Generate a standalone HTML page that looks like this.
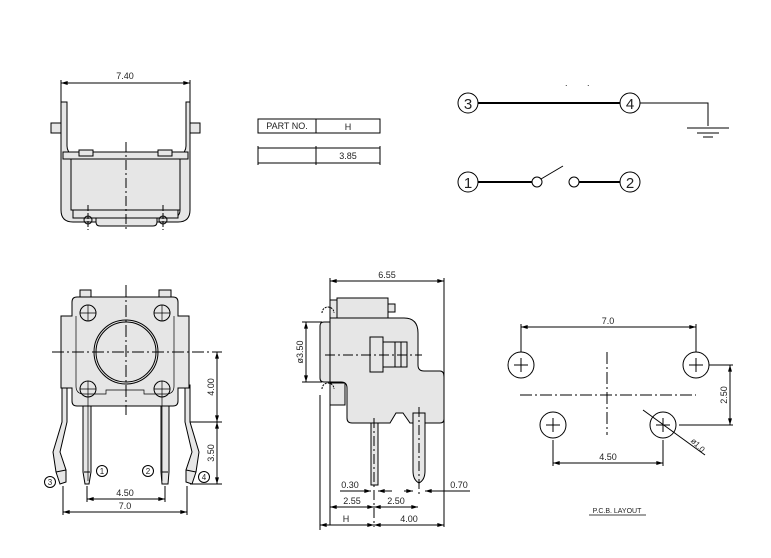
<!DOCTYPE html>
<html><head><meta charset="utf-8"><style>
body{margin:0;background:#fff}
svg{display:block}
text{font-family:"Liberation Sans",sans-serif;font-size:9px;fill:#222}
</style></head><body>
<svg width="771" height="558" viewBox="0 0 771 558" xmlns="http://www.w3.org/2000/svg">
<defs>
<marker id="a" viewBox="0 0 10 6" refX="10" refY="3" markerWidth="7" markerHeight="4" orient="auto-start-reverse"><path d="M0,0L10,3L0,6z" fill="#000"/></marker>
</defs>
<g stroke="#000" stroke-width="1" fill="none">
<!-- TOP VIEW -->
<line x1="61" y1="80" x2="61" y2="102"/><line x1="190" y1="80" x2="190" y2="102"/>
<line x1="61" y1="83" x2="190" y2="83" marker-start="url(#a)" marker-end="url(#a)"/>
<path d="M61,102h6v44q0,6 6,10v54q0,8 10,8H170q10,0 10,-8V156q6,-4 6,-10V102h4v108q0,12 -12,12H73q-12,0 -12,-12z" fill="#e6e6e6"/>
<rect x="51" y="123" width="10" height="10" fill="#e6e6e6"/><rect x="190" y="123" width="10" height="10" fill="#e6e6e6"/>
<rect x="63" y="152" width="125" height="7" fill="#e6e6e6"/>
<rect x="79" y="150" width="14" height="6" fill="#e6e6e6"/><rect x="158" y="150" width="14" height="6" fill="#e6e6e6"/>
<rect x="71" y="159" width="109" height="51" fill="#e6e6e6"/>
<path d="M96,218v4q0,4 4,4h53q4,0 4,-4v-4" fill="#e6e6e6"/>
<rect x="73" y="210" width="105" height="8" fill="#e6e6e6"/>
<circle cx="88" cy="220" r="4"/><circle cx="163" cy="220" r="4"/>
<line x1="126" y1="142" x2="126" y2="232" stroke-dasharray="10,3,2,3"/>
<line x1="88" y1="205" x2="88" y2="230" stroke-dasharray="6,2"/><line x1="163" y1="205" x2="163" y2="230" stroke-dasharray="6,2"/>
<!-- TABLE -->
<rect x="258" y="119" width="122" height="14"/><line x1="316" y1="119" x2="316" y2="133"/>
<line x1="258" y1="148" x2="380" y2="148"/><line x1="258" y1="163" x2="380" y2="163"/>
<line x1="258" y1="146" x2="258" y2="165"/><line x1="316" y1="146" x2="316" y2="165"/><line x1="380" y1="146" x2="380" y2="165"/>
<!-- SCHEMATIC -->
<circle cx="468" cy="103" r="10"/><circle cx="630" cy="103" r="10"/>
<line x1="478" y1="103" x2="620" y2="103" stroke-width="2"/>
<path d="M640,103H708V126"/>
<line x1="687" y1="128" x2="729" y2="128"/><line x1="697" y1="133" x2="719" y2="133"/><line x1="703" y1="137" x2="713" y2="137"/>
<circle cx="468" cy="182" r="10"/><circle cx="630" cy="182" r="10"/>
<line x1="478" y1="182" x2="532" y2="182" stroke-width="2"/>
<circle cx="537" cy="182" r="5"/><line x1="541" y1="179" x2="563" y2="166"/>
<circle cx="574" cy="182" r="5"/><line x1="579" y1="182" x2="620" y2="182" stroke-width="2"/>
<!-- FRONT VIEW -->
<rect x="80" y="290" width="11" height="9" fill="#e6e6e6"/><rect x="159" y="290" width="12" height="9" fill="#e6e6e6"/>
<path d="M62,385V422L53,452L56,472L60,484L66,482V470L60,452L67,422V385z" fill="#e6e6e6"/>
<path d="M190,385V422L199,452L196,472L192,484L186,482V470L192,452L185,422V385z" fill="#e6e6e6"/>
<line x1="56" y1="472" x2="66" y2="470"/><line x1="196" y1="472" x2="186" y2="470"/>
<path d="M77,297H173q5,0 5,5v14h11v72h-11v13q0,5 -5,5H77q-5,0 -5,-5v-13h-11v-72h11v-14q0,-5 5,-5z" fill="#e6e6e6"/>
<path d="M76,316v70q0,8 8,8h22v-4h38v4h22q8,0 8,-8v-70" stroke-width="0.7"/>
<circle cx="126" cy="352" r="32"/><circle cx="126" cy="352" r="30"/>
<circle cx="88" cy="313" r="8"/><circle cx="162" cy="313" r="8"/><circle cx="88" cy="389" r="8"/><circle cx="162" cy="389" r="8"/>
<path d="M83,406h8v66l-2,12h-4l-2,-12z" fill="#e6e6e6"/><path d="M161,406h8v66l-1,12h-6l-1,-12z" fill="#e6e6e6"/>
<line x1="84" y1="472" x2="90" y2="472"/><line x1="162" y1="472" x2="168" y2="472"/>
<line x1="52" y1="352" x2="222" y2="352" stroke-dasharray="12,3,2,3"/>
<line x1="126" y1="285" x2="126" y2="415" stroke-dasharray="12,3,2,3"/>
<g stroke-width="0.7"><path d="M80,313h16M88,305v16M154,313h16M162,305v16M80,389h16M88,381v100M154,389h16M162,381v100"/></g>
<circle cx="50" cy="482" r="5.5"/><circle cx="102" cy="471" r="5.5"/><circle cx="148" cy="471" r="5.5"/><circle cx="204" cy="477" r="5.5"/>
<line x1="190" y1="422" x2="222" y2="422"/><line x1="190" y1="484" x2="222" y2="484"/>
<line x1="217" y1="352" x2="217" y2="422" marker-start="url(#a)" marker-end="url(#a)"/>
<line x1="217" y1="422" x2="217" y2="484" marker-start="url(#a)" marker-end="url(#a)"/>
<line x1="87" y1="486" x2="87" y2="502"/><line x1="165" y1="486" x2="165" y2="502"/>
<line x1="63" y1="486" x2="63" y2="515"/><line x1="187" y1="486" x2="187" y2="515"/>
<line x1="87" y1="499" x2="165" y2="499" marker-start="url(#a)" marker-end="url(#a)"/>
<line x1="63" y1="512" x2="187" y2="512" marker-start="url(#a)" marker-end="url(#a)"/>
<!-- SIDE VIEW -->
<line x1="330" y1="278" x2="330" y2="525"/><line x1="444" y1="278" x2="444" y2="527"/>
<line x1="330" y1="281" x2="444" y2="281" marker-start="url(#a)" marker-end="url(#a)"/>
<rect x="337" y="298" width="51" height="20" fill="#e6e6e6"/><rect x="388" y="304" width="7" height="8" fill="#e6e6e6"/>
<rect x="330" y="300" width="7" height="18" fill="#e6e6e6"/>
<rect x="330" y="383" width="15" height="22" fill="#e6e6e6"/>
<path d="M320,326q0,-4 4,-4h6v60h-6q-4,0 -4,-4z" fill="#e6e6e6"/>
<path d="M330,318H404q14,0 14,15v32q0,6 6,6h16q4,0 4,6v42q0,4 -4,4H410l-7,-10h-7l-6,10H352q-5,0 -5,-5v-30q0,-6 -6,-6h-11z" fill="#e6e6e6"/>
<path d="M322,313a6,6 0 0 1 12,0M322,389a6,6 0 0 1 12,0" stroke-dasharray="2,1"/>
<path d="M371,423h7v62h-7z" fill="#e6e6e6"/><path d="M413,413h12v58q0,9 -6,12q-6,-3 -6,-12z" fill="#e6e6e6"/>
<rect x="370" y="337" width="13" height="35"/><path d="M383,342h24v25h-24M395,342v25M401,342v25"/>
<line x1="325" y1="355" x2="422" y2="355" stroke-dasharray="10,3,2,3"/>
<line x1="374" y1="418" x2="374" y2="527" stroke-dasharray="10,3,2,3"/><line x1="419" y1="407" x2="419" y2="497" stroke-dasharray="10,3,2,3"/>
<line x1="302" y1="322" x2="322" y2="322"/><line x1="302" y1="382" x2="322" y2="382"/>
<line x1="306" y1="322" x2="306" y2="382" marker-start="url(#a)" marker-end="url(#a)"/>
<line x1="340" y1="491" x2="371" y2="491" marker-end="url(#a)"/><line x1="392" y1="491" x2="378" y2="491" marker-end="url(#a)"/>
<line x1="404" y1="491" x2="413" y2="491" marker-end="url(#a)"/><line x1="470" y1="491" x2="425" y2="491" marker-end="url(#a)"/>
<line x1="330" y1="507" x2="374" y2="507" marker-start="url(#a)" marker-end="url(#a)"/>
<line x1="374" y1="507" x2="418" y2="507" marker-start="url(#a)" marker-end="url(#a)"/>
<line x1="320" y1="395" x2="320" y2="530"/>
<line x1="320" y1="525" x2="374" y2="525" marker-start="url(#a)" marker-end="url(#a)"/>
<line x1="374" y1="525" x2="444" y2="525" marker-start="url(#a)" marker-end="url(#a)"/>
<!-- PCB -->
<circle cx="521" cy="365" r="13"/><circle cx="696" cy="365" r="13"/><circle cx="553" cy="425" r="13"/><circle cx="663" cy="425" r="13"/>
<path d="M514,365h14M521,358v14M689,365h14M696,358v14M546,425h14M553,418v14M656,425h14M663,418v14"/>
<line x1="521" y1="324" x2="521" y2="352"/><line x1="696" y1="324" x2="696" y2="352"/>
<line x1="521" y1="327" x2="696" y2="327" marker-start="url(#a)" marker-end="url(#a)"/>
<line x1="520" y1="395" x2="696" y2="395" stroke-dasharray="12,3,2,3"/>
<line x1="607" y1="352" x2="607" y2="435" stroke-dasharray="12,3,2,3"/>
<line x1="709" y1="365" x2="733" y2="365"/><line x1="679" y1="425" x2="733" y2="425"/>
<line x1="730" y1="365" x2="730" y2="425" marker-start="url(#a)" marker-end="url(#a)"/>
<line x1="553" y1="440" x2="553" y2="466"/><line x1="663" y1="440" x2="663" y2="466"/>
<line x1="553" y1="463" x2="663" y2="463" marker-start="url(#a)" marker-end="url(#a)"/>
<line x1="643" y1="410" x2="705" y2="455"/>
<line x1="589" y1="515" x2="646" y2="515" stroke-width="0.7"/>
</g>
<text x="125" y="79" text-anchor="middle">7.40</text>
<text x="287" y="129" text-anchor="middle" font-size="7">PART  NO.</text>
<text x="348" y="130" text-anchor="middle" font-size="8">H</text>
<text x="348" y="159" text-anchor="middle" font-size="8">3.85</text>
<g text-anchor="middle">
<text x="468" y="109" style="font-size:15px">3</text><text x="630" y="109" style="font-size:15px">4</text>
<text x="468" y="188" style="font-size:15px">1</text><text x="630" y="188" style="font-size:15px">2</text>
</g>
<text x="565" y="86" font-size="6">.</text><text x="587" y="86" font-size="6">.</text>
<g text-anchor="middle">
<text x="50" y="485" style="font-size:8px">3</text><text x="102" y="474" style="font-size:8px">1</text>
<text x="148" y="474" style="font-size:8px">2</text><text x="204" y="480" style="font-size:8px">4</text>
</g>
<text x="125" y="496" text-anchor="middle">4.50</text>
<text x="125" y="509" text-anchor="middle">7.0</text>
<text transform="translate(214,387) rotate(-90)" text-anchor="middle">4.00</text>
<text transform="translate(214,453) rotate(-90)" text-anchor="middle">3.50</text>
<text x="387" y="278" text-anchor="middle">6.55</text>
<text transform="translate(303,352) rotate(-90)" text-anchor="middle">ø3.50</text>
<text x="350" y="488" text-anchor="middle">0.30</text>
<text x="459" y="488" text-anchor="middle">0.70</text>
<text x="352" y="504" text-anchor="middle">2.55</text>
<text x="396" y="504" text-anchor="middle">2.50</text>
<text x="346" y="522" text-anchor="middle">H</text>
<text x="409" y="522" text-anchor="middle">4.00</text>
<text x="608" y="324" text-anchor="middle">7.0</text>
<text transform="translate(727,395) rotate(-90)" text-anchor="middle">2.50</text>
<text x="608" y="460" text-anchor="middle">4.50</text>
<text transform="translate(696,447) rotate(45)" text-anchor="middle" style="font-size:8px">ø1.0</text>
<text x="617" y="513" text-anchor="middle" style="font-size:7px">P.C.B.  LAYOUT</text>
</svg>
</body></html>
